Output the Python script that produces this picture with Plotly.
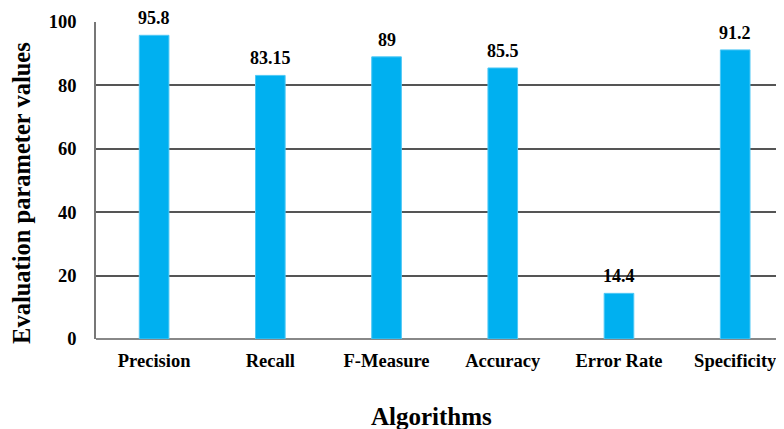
import plotly.graph_objects as go

categories = ["Precision", "Recall", "F-Measure", "Accuracy", "Error Rate", "Specificity"]
values = [95.8, 83.15, 89, 85.5, 14.4, 91.2]
labels = ["95.8", "83.15", "89", "85.5", "14.4", "91.2"]
y_ticks = [0, 20, 40, 60, 80, 100]

FONT = "Liberation Serif"

fig = go.Figure(go.Bar(
    x=categories, y=values,
    marker=dict(color="#00B0F0", line=dict(color="#4FC8F5", width=1)),
    width=0.255,
))

for c, v, t in zip(categories, values, labels):
    fig.add_annotation(x=c, y=v, text=t, showarrow=False, yanchor="bottom",
                       yshift=5, font=dict(family=FONT, size=18, color="black", weight="bold"))

fig.add_annotation(xref="paper", yref="paper", x=-0.1076, y=0.4606,
                   text="Evaluation parameter values", textangle=-90, showarrow=False,
                   xanchor="center", yanchor="middle",
                   font=dict(family=FONT, size=24.5, color="black", weight="bold"))
fig.add_annotation(xref="paper", yref="paper", x=0.488, y=-0.246,
                   text="Algorithms", showarrow=False,
                   xanchor="center", yanchor="middle",
                   font=dict(family=FONT, size=25, color="black", weight="bold"))

fig.update_layout(
    width=776, height=421,
    margin=dict(l=88, r=0, t=14, b=90, autoexpand=False),
    plot_bgcolor="white", paper_bgcolor="white",
    showlegend=False,
    font=dict(family=FONT, color="black"),
    xaxis=dict(
        range=[-0.5, 5.42], automargin=False,
        showgrid=False, showline=False, zeroline=False,
        ticks="", ticklabelstandoff=8,
        tickfont=dict(family=FONT, size=18.5, color="black", weight="bold"),
    ),
    yaxis=dict(
        range=[0, 100], tickvals=y_ticks, automargin=False,
        showgrid=True, gridcolor="#555555", gridwidth=1.5,
        zeroline=True, zerolinecolor="#888888", zerolinewidth=1.5,
        showline=True, linecolor="#777777", linewidth=1.5,
        ticks="", ticklabelstandoff=14,
        tickfont=dict(family=FONT, size=18.5, color="black", weight="bold"),
    ),
    bargap=0.75,
)

fig.write_html("out.html")
